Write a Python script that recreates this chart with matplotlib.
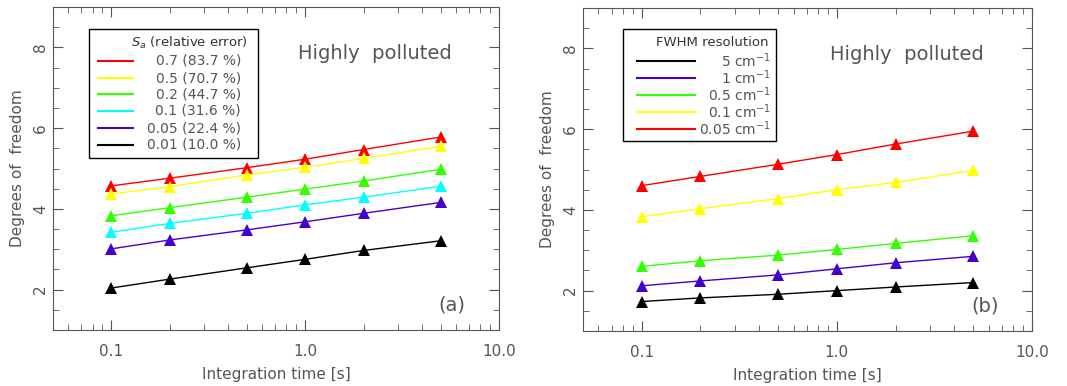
import numpy as np
import matplotlib.pyplot as plt
from matplotlib.lines import Line2D
from matplotlib.patches import Rectangle
from matplotlib.ticker import FixedLocator, MultipleLocator, FixedFormatter

plt.rcParams['font.family'] = ['DejaVu Sans']

# integration times [s]
t = [0.1, 0.2, 0.5, 1.0, 2.0, 5.0]

# panel (a): Sa values
sa_labels = ['0.7 (83.7 %)', '0.5 (70.7 %)', '0.2 (44.7 %)',
             '0.1 (31.6 %)', '0.05 (22.4 %)', '0.01 (10.0 %)']
sa_dof = [
    [4.57, 4.76, 5.02, 5.23, 5.47, 5.78],
    [4.37, 4.55, 4.84, 5.03, 5.25, 5.55],
    [3.83, 4.03, 4.29, 4.49, 4.69, 4.98],
    [3.42, 3.64, 3.89, 4.10, 4.29, 4.56],
    [3.01, 3.23, 3.48, 3.68, 3.89, 4.16],
    [2.04, 2.26, 2.54, 2.75, 2.97, 3.21],
]
sa_colors = ['#ff0000', '#ffff00', '#33ff00', '#00ffff', '#4400cc', '#000000']

# panel (b): FWHM resolution
fw_labels = ['5 cm$^{-1}$', '1 cm$^{-1}$', '0.5 cm$^{-1}$',
             '0.1 cm$^{-1}$', '0.05 cm$^{-1}$']
fw_dof = [
    [1.73, 1.82, 1.91, 2.00, 2.09, 2.20],
    [2.12, 2.24, 2.39, 2.54, 2.69, 2.85],
    [2.60, 2.74, 2.88, 3.02, 3.17, 3.36],
    [3.83, 4.03, 4.28, 4.50, 4.68, 4.98],
    [4.60, 4.83, 5.13, 5.37, 5.63, 5.95],
]
fw_colors = ['#000000', '#4400cc', '#33ff00', '#ffff00', '#ff0000']

grey = '#555555'
W, H = 1067, 386

fig = plt.figure(figsize=(W / 100, H / 100), dpi=100)
ax1 = fig.add_axes([53 / W, 1 - 330 / H, 446 / W, 323 / H])
ax2 = fig.add_axes([583 / W, 1 - 331 / H, 449 / W, 323 / H])


def px(x, y):
    return x / W, 1 - y / H


def style(ax, tag):
    ax.set_xscale('log')
    ax.set_xlim(0.05, 10)
    ax.set_ylim(1, 9)
    ax.xaxis.set_major_locator(FixedLocator([0.1, 1.0, 10.0]))
    ax.xaxis.set_major_formatter(FixedFormatter(['0.1', '1.0', '10.0']))
    minors = [m * d for d in [0.01, 0.1, 1.0] for m in range(2, 10)]
    ax.xaxis.set_minor_locator(FixedLocator(minors))
    ax.yaxis.set_major_locator(FixedLocator([2, 4, 6, 8]))
    ax.yaxis.set_minor_locator(MultipleLocator(0.5))
    ax.tick_params(which='both', direction='in', top=True, right=True,
                   colors=grey, labelcolor=grey, labelsize=11)
    ax.tick_params(which='major', length=7)
    ax.tick_params(which='minor', length=4)
    ax.tick_params(axis='x', pad=10)
    for lab in ax.get_yticklabels():
        lab.set_rotation(90)
        lab.set_va('center')
    for s in ax.spines.values():
        s.set_color(grey)
    ax.set_xlabel('Integration time [s]', color=grey, fontsize=11, labelpad=6)
    ax.set_ylabel('Degrees of  freedom', color=grey, fontsize=11, labelpad=6)
    ax.text(0.55, 0.84, 'Highly  polluted', transform=ax.transAxes,
            color=grey, fontsize=14)
    ax.text(0.865, 0.06, tag, transform=ax.transAxes, color=grey, fontsize=14)


def legend_box(box, title, title_xy, line_x, text_x, rows, cols, labels,
               title_size):
    x0, y0, x1, y1 = box
    fig.add_artist(Rectangle(px(x0, y1), (x1 - x0) / W, (y1 - y0) / H,
                             transform=fig.transFigure, facecolor='white',
                             edgecolor='black', lw=1, zorder=5))
    fig.text(*px(*title_xy), title, ha='right', va='center', color='#333333',
             fontsize=title_size, zorder=6)
    for yy, c, lab in zip(rows, cols, labels):
        a, b = px(line_x[0], yy)
        e, _ = px(line_x[1], yy)
        fig.add_artist(Line2D([a, e], [b, b], transform=fig.transFigure,
                              color=c, lw=1.5, zorder=6))
        fig.text(*px(text_x, yy), lab, ha='right', va='center', color=grey,
                 fontsize=10, zorder=6)


for ax, data, cols, tag in [(ax1, sa_dof, sa_colors, '(a)'),
                            (ax2, fw_dof, fw_colors, '(b)')]:
    style(ax, tag)
    for y, c in zip(data, cols):
        ax.plot(t, y, '-', color=c, lw=1)
        ax.plot(t, y, '^', color=c, ms=9, mew=0)

legend_box((89, 29, 258, 158), '$S_a$ (relative error)', (248, 43),
           (98, 133), 241, [61, 78, 94, 111, 128, 145], sa_colors, sa_labels, 9.5)
legend_box((623, 29, 776, 141), 'FWHM resolution', (769, 43),
           (637, 695), 771, [61, 78, 95, 112, 129], fw_colors, fw_labels, 9.5)

fig.savefig('out.png', dpi=100)
